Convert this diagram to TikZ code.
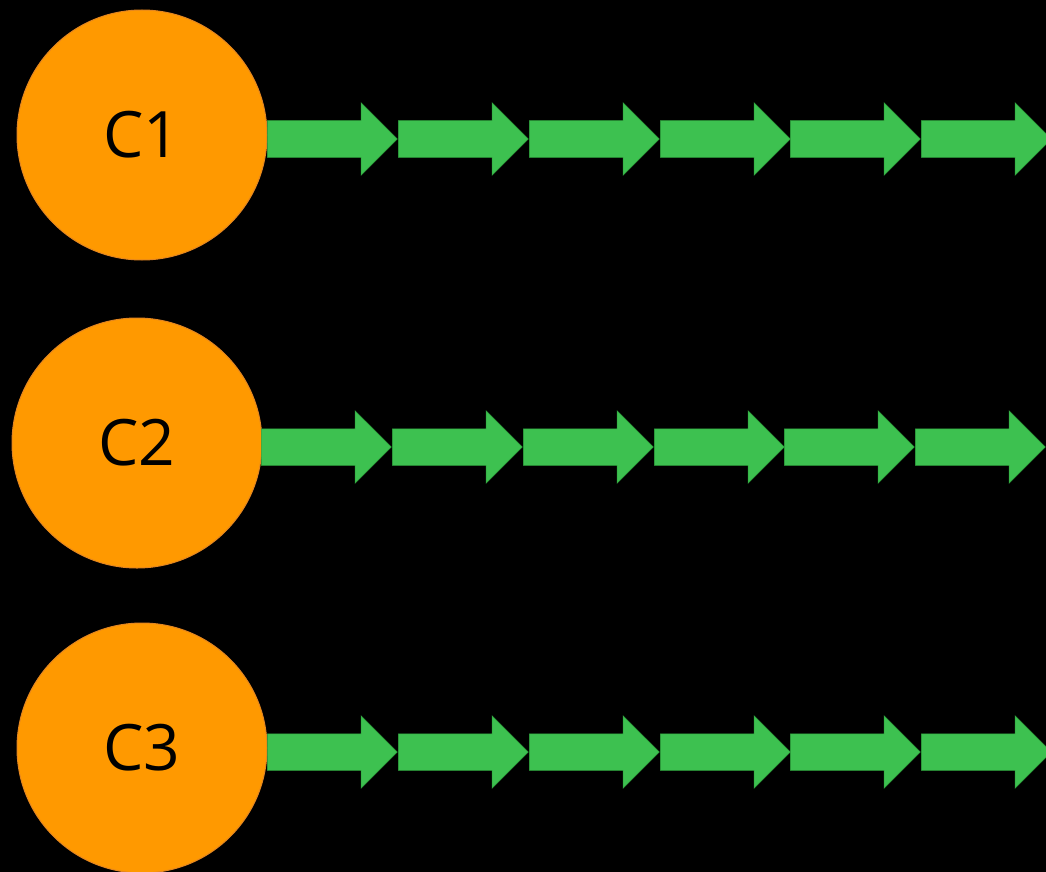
\documentclass[tikz,border=0pt]{standalone}
\usepackage{fontspec}
\setmainfont{Open Sans}
\usetikzlibrary{shapes.arrows}

\definecolor{corange}{RGB}{255,153,0}
\definecolor{corangeedge}{RGB}{228,134,32}
\definecolor{cgreen}{RGB}{61,193,80}
\definecolor{cgreenedge}{RGB}{48,165,62}

\tikzset{
  chan/.style={circle, fill=corange, draw=corangeedge, line width=1pt,
    minimum size=250pt, inner sep=0pt, font=\fontsize{64}{64}\selectfont},
  flow/.style={single arrow, fill=cgreen, draw=cgreenedge, line width=0.5pt,
    minimum height=130pt, minimum width=72pt, single arrow head extend=18pt,
    text height=36pt, text depth=0pt, inner sep=0pt, anchor=tail},
}

\begin{document}
\begin{tikzpicture}[x=1pt,y=-1pt]
\fill[black] (0,0) rectangle (1046,872);
\useasboundingbox (0,0) rectangle (1046,872);
% first row
\node[chan] (c1) at (142,135) {C1};
\node[flow] (a11) at (267,139) {};
\node[flow] (a12) at (398,139) {};
\node[flow] (a13) at (529,139) {};
\node[flow] (a14) at (660,139) {};
\node[flow] (a15) at (790,139) {};
\node[flow] (a16) at (921,139) {};
% second row
\node[chan] (c2) at (137,443) {C2};
\node[flow] (a21) at (261,447) {};
\node[flow] (a22) at (392,447) {};
\node[flow] (a23) at (523,447) {};
\node[flow] (a24) at (654,447) {};
\node[flow] (a25) at (784,447) {};
\node[flow] (a26) at (915,447) {};
% third row
\node[chan] (c3) at (142,748) {C3};
\node[flow] (a31) at (267,752) {};
\node[flow] (a32) at (398,752) {};
\node[flow] (a33) at (529,752) {};
\node[flow] (a34) at (660,752) {};
\node[flow] (a35) at (790,752) {};
\node[flow] (a36) at (921,752) {};
\end{tikzpicture}
\end{document}
